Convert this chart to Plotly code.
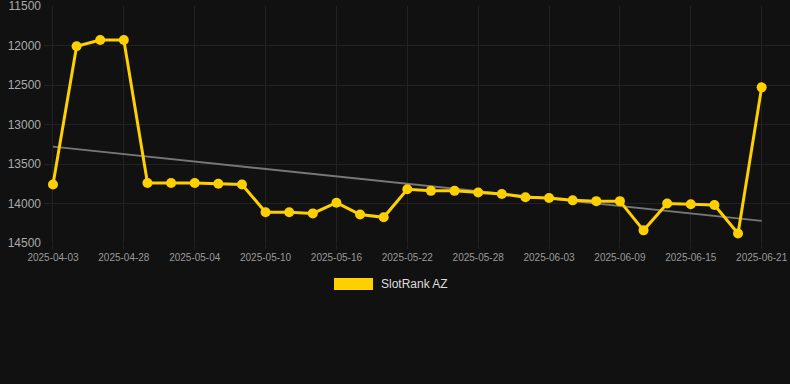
import plotly.graph_objects as go

dates = ["2025-04-03", "2025-04-24", "2025-04-26", "2025-04-28", "2025-04-30",
         "2025-05-02", "2025-05-04", "2025-05-06", "2025-05-08", "2025-05-10",
         "2025-05-12", "2025-05-14", "2025-05-16", "2025-05-18", "2025-05-20",
         "2025-05-22", "2025-05-24", "2025-05-26", "2025-05-28", "2025-05-30",
         "2025-06-01", "2025-06-03", "2025-06-05", "2025-06-07", "2025-06-09",
         "2025-06-11", "2025-06-13", "2025-06-15", "2025-06-17", "2025-06-19",
         "2025-06-21"]
ranks = [13760, 12010, 11930, 11930, 13740, 13740, 13740, 13750, 13760, 14110,
         14110, 14125, 13990, 14140, 14175, 13820, 13840, 13840, 13860, 13880,
         13920, 13930, 13960, 13970, 13970, 14340, 14000, 14010, 14020, 14380,
         12530]
trend_x = [dates[0], dates[-1]]
trend_y = [13280, 14220]
tick_labels = dates[0:1] + dates[3::3]
y_ticks = [11500, 12000, 12500, 13000, 13500, 14000, 14500]
series_name = "SlotRank AZ"
gold = "#FFD000"

fig = go.Figure()
fig.add_trace(go.Scatter(x=trend_x, y=trend_y, mode="lines",
                         line=dict(color="#777777", width=2),
                         showlegend=False, hoverinfo="skip"))
fig.add_trace(go.Scatter(x=dates, y=ranks, mode="lines+markers",
                         line=dict(color=gold, width=3),
                         marker=dict(color=gold, size=10),
                         name=series_name, showlegend=False))

# legend swatch + label (paper coordinates)
fig.add_shape(type="rect", xref="paper", yref="paper",
              x0=(334 - 44) / 746, x1=(373 - 44) / 746,
              y0=(243 - 290) / 237, y1=(243 - 278) / 237,
              fillcolor=gold, line=dict(width=0))
fig.add_annotation(xref="paper", yref="paper", x=(379 - 44) / 746,
                   y=(243 - 284) / 237, xanchor="left", yanchor="middle",
                   text=series_name, showarrow=False,
                   font=dict(size=12, color="#dddddd"))

fig.update_layout(
    width=790, height=384,
    margin=dict(l=44, r=0, t=6, b=141),
    paper_bgcolor="#111111", plot_bgcolor="#111111",
    font=dict(family="Arial, Liberation Sans, sans-serif", color="#999999"),
    showlegend=False,
)
fig.update_xaxes(type="category", categoryorder="array", categoryarray=dates,
                 range=[-0.38, 31.2], tickmode="array", tickvals=tick_labels,
                 ticktext=tick_labels, tickfont=dict(size=10, color="#999999"),
                 showgrid=True, gridcolor="#222222", zeroline=False,
                 ticks="outside", ticklen=5, tickcolor="#222222",
                 showline=False)
fig.update_yaxes(range=[14500, 11500], tickmode="array", tickvals=y_ticks,
                 ticktext=[str(v) for v in y_ticks],
                 tickfont=dict(size=12, color="#aaaaaa"), showgrid=True,
                 gridcolor="#222222", zeroline=False, ticks="", ticklabelstandoff=2,
                 ticklabeloverflow="allow", showline=False)

fig.write_html("out.html")
